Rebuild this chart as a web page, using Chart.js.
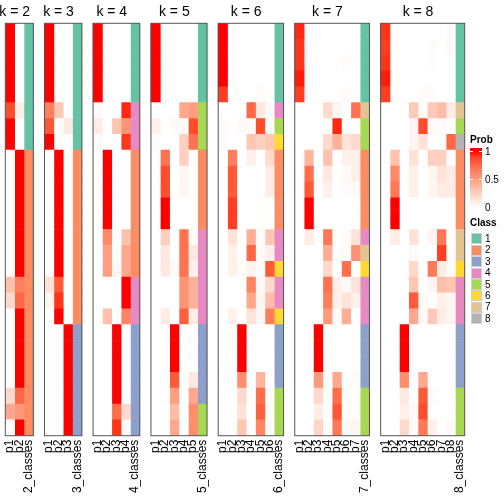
<!DOCTYPE html>
<html>
<head>
<meta charset="utf-8">
<script src="https://cdn.jsdelivr.net/npm/chart.js@4/dist/chart.umd.min.js"></script>
<style>
  html, body { margin:0; padding:0; background:#fff; }
  #wrap { position:relative; width:504px; height:504px; font-family:"Liberation Sans", Arial, sans-serif; }
  #c { position:absolute; left:0; top:0; }
  .lg { position:absolute; font-size:10px; color:#000; line-height:10px; white-space:nowrap; }
  .lgt { font-weight:bold; }
  .sw { position:absolute; width:9px; height:9px; border:1px solid #d0d0d0; }
  .tk { position:absolute; height:1px; width:3px; background:#fff; }
</style>
</head>
<body>
<div id="wrap">
  <canvas id="c" width="504" height="504"></canvas>
  <div id="legend"></div>
</div>
<script>
// ---------- data ----------
const rows = ['s01','s02','s03','s04','s05','s06','s07','s08','s09','s10','s11','s12','s13',
              's14','s15','s16','s17','s18','s19','s20','s21','s22','s23','s24','s25','s26'];
const classColors = ['#66c2a5','#fc8d62','#8da0cb','#e78ac3','#a6d854','#ffd92f','#e5c494','#b3b3b3'];
const classNames = ['1','2','3','4','5','6','7','8'];
const probTicks = [1, 0.5, 0];

// k = 2 : rows x [p1, p2]
const prob2 = [
  [1,0],[1,0],[1,0],[1,0],[1,0],[0.85,0.08],[1,0],[1,0],
  [0,1],[0,1],[0,1],[0,1],[0,1],[0,1],[0,1],[0,1],
  [0.33,0.65],[0.2,0.75],[0,1],[0,1],[0,1],[0,1],[0,1],[0.2,0.75],[0.45,0.53],[0,1]
];
const class2 = [1,1,1,1,1,1,1,1,2,2,2,2,2,2,2,2,2,2,2,2,2,2,2,2,2,2];

// k = 3
const prob3 = [
  [1,0,0],[1,0,0],[1,0,0],[1,0,0],[1,0,0],[0.65,0.28,0],[0.82,0,0.12],[1,0,0],
  [0,1,0],[0,1,0],[0,1,0],[0,1,0],[0,1,0],[0,1,0],[0,1,0],[0,1,0],
  [0.15,0.8,0],[0.05,0.92,0],[0,1,0],
  [0,0,1],[0,0,1],[0,0,1],[0,0,1],[0,0,1],[0,0,1],[0,0,1]
];
const class3 = [1,1,1,1,1,1,1,1,2,2,2,2,2,2,2,2,2,2,2,3,3,3,3,3,3,3];

// k = 4
const prob4 = [
  [1,0,0,0],[1,0,0,0],[1,0,0,0],[1,0,0,0],[1,0,0,0],
  [0.02,0,0,0.95],[0.1,0,0.3,0.55],[0.02,0,0,0.92],
  [0,1,0,0],[0,1,0,0],[0,1,0,0],[0,1,0,0],[0,1,0,0],
  [0,0.6,0,0.33],[0,0.5,0,0.45],[0,0.5,0.04,0.45],
  [0,0,0,1],[0,0,0,1],[0,0.33,0,0.62],
  [0,0,1,0],[0,0,1,0],[0,0,1,0],[0,0,1,0],[0,0,1,0],[0,0,0.72,0.2],[0,0,0.92,0.02]
];
const class4 = [1,1,1,1,1,4,4,4,2,2,2,2,2,2,2,2,4,4,4,3,3,3,3,3,3,3];

// k = 5
const prob5 = [
  [1,0,0,0,0],[1,0,0,0,0],[1,0,0,0,0],[1,0,0,0,0],[1,0,0,0,0],
  [0,0,0,0.45,0.5],[0.08,0,0.03,0.02,0.85],[0.02,0,0,0.25,0.7],
  [0,0.7,0,0.25,0],[0,0.85,0,0.04,0],[0,0.85,0,0.04,0],[0,1,0,0,0],[0,1,0,0,0],
  [0,0.25,0,0.7,0.02],[0,0.12,0,0.7,0.12],[0,0.12,0.03,0.7,0.08],
  [0,0,0,0.55,0.4],[0,0,0,0.55,0.4],[0,0.1,0,0.78,0.1],
  [0,0,1,0,0],[0,0,1,0,0],[0,0,1,0,0],[0,0,0.8,0,0.12],[0,0,0.5,0,0.45],
  [0,0,0.35,0,0.58],[0,0,0.45,0,0.58]
];
const class5 = [1,1,1,1,1,5,5,5,2,2,2,2,2,4,4,4,4,4,4,3,3,3,3,3,5,5];

// k = 6
const prob6 = [
  [1,0,0,0,0,0],[1,0,0,0,0,0],[1,0,0,0,0,0],[1,0,0,0,0,0],[0.9,0,0,0,0.02,0],
  [0,0,0,0.75,0.12,0.02],[0.02,0,0.03,0.02,0.85,0],[0.02,0,0,0.3,0.25,0.3],
  [0,0.65,0,0.08,0,0.2],[0,0.8,0,0,0,0.1],[0,0.8,0,0,0,0.1],[0,0.9,0,0,0.01,0],[0,0.9,0,0,0.01,0],
  [0,0.15,0,0.42,0.02,0.3],[0,0.08,0,0.75,0.02,0.08],[0,0.08,0.02,0.06,0.02,0.8],
  [0,0,0,0.62,0.04,0.2],[0,0,0,0.45,0.05,0.35],[0,0.08,0,0.15,0.04,0.65],
  [0,0,1,0,0,0],[0,0,1,0,0,0],[0,0,1,0,0,0],[0,0,0.58,0,0.38,0],
  [0,0,0.2,0,0.72,0.02],[0,0,0.15,0,0.78,0.02],[0,0,0.3,0,0.62,0.02]
];
const class6 = [1,1,1,1,1,4,5,6,2,2,2,2,2,4,4,6,4,4,6,3,3,3,3,5,5,5];

// k = 7
const prob7 = [
  [0.95,0,0,0,0,0,0],[0.92,0,0,0,0,0,0],[0.92,0,0,0,0,0.02,0],[0.97,0,0,0,0,0,0],[0.9,0,0,0,0,0.02,0],
  [0,0,0,0.2,0.05,0,0.7],[0,0,0,0,0.95,0,0],[0,0,0,0.2,0.4,0.15,0.2],
  [0,0.38,0,0.32,0,0.08,0.08],[0,0.72,0,0.12,0,0.03,0.08],[0,0.8,0,0.08,0,0.02,0.03],
  [0,1,0,0,0,0,0],[0,1,0,0,0,0,0],
  [0,0.1,0,0.68,0,0.02,0.15],[0,0,0,0.42,0,0.02,0.55],[0,0,0,0.2,0,0.72,0],
  [0,0,0,0.7,0.08,0.02,0.15],[0,0,0,0.65,0.08,0.15,0.08],[0,0,0,0.52,0.02,0.42,0],
  [0,0,1,0,0,0,0],[0,0,1,0,0,0,0],[0,0,1,0,0,0,0],[0,0,0.52,0,0.45,0,0.02],
  [0,0,0.2,0,0.72,0.02,0],[0,0,0.1,0,0.82,0,0],[0,0,0.22,0,0.68,0.03,0.05]
];
const class7 = [1,1,1,1,1,7,5,5,2,2,2,2,2,4,7,6,4,4,4,3,3,3,3,5,5,5];

// k = 8
const prob8 = [
  [0.92,0,0,0,0,0,0,0.02],[0.9,0,0,0,0,0.02,0,0.02],[0.92,0,0,0,0,0.02,0,0],[0.97,0,0,0,0,0,0,0],[0.9,0,0,0,0.02,0.02,0,0],
  [0,0,0,0.28,0.02,0.28,0.35,0.1],[0,0,0,0.05,0.85,0.02,0.02,0],[0,0,0,0.05,0.15,0,0,0.75],
  [0,0.32,0,0.15,0,0.25,0.25,0],[0,0.6,0,0.08,0,0.05,0.15,0.1],[0,0.68,0,0.08,0,0.05,0.1,0.1],
  [0,1,0,0,0,0,0,0],[0,1,0,0,0,0,0,0],
  [0,0.1,0,0.15,0,0.05,0.68,0],[0,0,0,0.02,0,0,0.9,0.02],[0,0,0,0.2,0,0.68,0.1,0.02],
  [0,0,0,0.3,0,0.05,0.33,0.3],[0,0,0,0.8,0.03,0,0.08,0.05],[0,0,0,0.45,0.03,0.28,0.1,0.05],
  [0,0,1,0,0,0,0,0],[0,0,1,0,0,0,0,0],[0,0,1,0,0,0,0,0],[0,0,0.58,0,0.45,0,0,0],
  [0,0,0.12,0,0.8,0.02,0,0],[0,0,0.08,0.03,0.85,0,0,0],[0,0,0.2,0.02,0.68,0.08,0,0.03]
];
const class8 = [1,1,1,1,1,7,5,8,2,2,2,2,2,7,7,6,4,4,4,3,3,3,3,5,5,5];

const panels = [
  {k:2, prob:prob2, cls:class2},
  {k:3, prob:prob3, cls:class3},
  {k:4, prob:prob4, cls:class4},
  {k:5, prob:prob5, cls:class5},
  {k:6, prob:prob6, cls:class6},
  {k:7, prob:prob7, cls:class7},
  {k:8, prob:prob8, cls:class8}
];

// ---------- white -> red colour ramp in LAB ----------
function toLin(c){ c/=255; return c<=0.04045 ? c/12.92 : Math.pow((c+0.055)/1.055, 2.4); }
function rgb2lab(r,g,b){
  r=toLin(r); g=toLin(g); b=toLin(b);
  let X=(0.4124564*r+0.3575761*g+0.1804375*b)/0.95047;
  let Y=(0.2126729*r+0.7151522*g+0.0721750*b);
  let Z=(0.0193339*r+0.1191920*g+0.9503041*b)/1.08883;
  const f=t=> t>0.008856 ? Math.cbrt(t) : 7.787*t+16/116;
  const fx=f(X), fy=f(Y), fz=f(Z);
  return [116*fy-16, 500*(fx-fy), 200*(fy-fz)];
}
function lab2rgb(L,a,b){
  const fy=(L+16)/116, fx=fy+a/500, fz=fy-b/200;
  const fi=t=>{ const t3=t*t*t; return t3>0.008856 ? t3 : (t-16/116)/7.787; };
  const X=0.95047*fi(fx), Y=fi(fy), Z=1.08883*fi(fz);
  let r= 3.2404542*X-1.5371385*Y-0.4985314*Z;
  let g=-0.9692660*X+1.8760108*Y+0.0415560*Z;
  let bb=0.0556434*X-0.2040259*Y+1.0572252*Z;
  const gm=c=>{ c=Math.max(0,Math.min(1,c)); c = c<=0.0031308 ? 12.92*c : 1.055*Math.pow(c,1/2.4)-0.055; return Math.round(c*255); };
  return 'rgb('+gm(r)+','+gm(g)+','+gm(bb)+')';
}
const LW = rgb2lab(255,255,255), LR = rgb2lab(255,0,0);
function probColor(v){
  v=Math.max(0,Math.min(1,v));
  return lab2rgb(LW[0]+(LR[0]-LW[0])*v, LW[1]+(LR[1]-LW[1])*v, LW[2]+(LR[2]-LW[2])*v);
}

// ---------- build datasets ----------
const GAP = 1.2;
const datasets = [];
const tickValues = [];
const tickLabels = {};
const ranges = [];
let pos = 0;
panels.forEach((p, pi) => {
  if (pi > 0) {
    datasets.push({ data: rows.map(() => GAP), backgroundColor: 'rgba(0,0,0,0)' });
    pos += GAP;
  }
  const start = pos;
  for (let j = 0; j < p.k; j++) {
    datasets.push({ data: rows.map(() => 1), backgroundColor: p.prob.map(r => probColor(r[j])) });
    tickValues.push(pos + 0.5); tickLabels[(pos + 0.5).toFixed(2)] = 'p' + (j + 1);
    pos += 1;
  }
  datasets.push({ data: rows.map(() => 1), backgroundColor: p.cls.map(c => classColors[c - 1]) });
  tickValues.push(pos + 0.5); tickLabels[(pos + 0.5).toFixed(2)] = p.k + '_classes';
  pos += 1;
  ranges.push({ k: p.k, start: start, probEnd: start + p.k, end: pos });
});
const TOTAL = pos;

const panelPlugin = {
  id: 'panels',
  afterDatasetsDraw(chart) {
    const ctx = chart.ctx, xs = chart.scales.x, a = chart.chartArea;
    ctx.save();
    ctx.strokeStyle = '#555';
    ctx.lineWidth = 1;
    ctx.fillStyle = '#000';
    ctx.font = '14px "Liberation Sans", Arial, sans-serif';
    ctx.textAlign = 'center';
    ctx.textBaseline = 'alphabetic';
    ranges.forEach(r => {
      const l = xs.getPixelForValue(r.start), rr = xs.getPixelForValue(r.end);
      ctx.strokeRect(l, a.top, rr - l, a.bottom - a.top);
      const pe = xs.getPixelForValue(r.probEnd);
      ctx.fillText('k = ' + r.k, (l + pe) / 2, 16);
    });
    ctx.restore();
  }
};

new Chart(document.getElementById('c'), {
  type: 'bar',
  data: { labels: rows, datasets: datasets },
  options: {
    indexAxis: 'y',
    responsive: false,
    animation: false,
    devicePixelRatio: 1,
    layout: { padding: { left: 5.3, top: 23.3, right: 39.3, bottom: 0 } },
    plugins: { legend: { display: false }, tooltip: { enabled: false }, title: { display: false } },
    datasets: { bar: { categoryPercentage: 1, barPercentage: 1, borderWidth: 0 } },
    scales: {
      x: {
        type: 'linear', stacked: true, min: 0, max: TOTAL, position: 'bottom',
        grid: { display: false, drawTicks: false },
        border: { display: false },
        ticks: {
          autoSkip: false, minRotation: 90, maxRotation: 90, padding: 4, color: '#000',
          font: { family: '"Liberation Sans", Arial, sans-serif', size: 12 },
          callback: (v) => tickLabels[Number(v).toFixed(2)] || ''
        },
        afterBuildTicks: (s) => { s.ticks = tickValues.map(v => ({ value: v })); },
        afterFit: (s) => { s.height = 68.3; }
      },
      y: { type: 'category', stacked: true, display: false, offset: true }
    }
  },
  plugins: [panelPlugin]
});

// ---------- legend (HTML) ----------
(function(){
  const L = document.getElementById('legend');
  const add = (html) => { L.insertAdjacentHTML('beforeend', html); };
  add('<div class="lg lgt" style="left:470px;top:135px;">Prob</div>');
  const barTop = 148, barBot = 210, y1 = 151, y0 = 207;
  const stops = [];
  for (let i = 0; i <= 10; i++) {
    const v = 1 - i / 10;
    const y = y1 + (y0 - y1) * (i / 10);
    stops.push(probColor(v) + ' ' + ((y - barTop) / (barBot - barTop) * 100).toFixed(1) + '%');
  }
  add('<div style="position:absolute;left:470px;top:' + barTop + 'px;width:12px;height:' + (barBot - barTop) +
      'px;background:linear-gradient(to bottom,' + stops.join(',') + ');"></div>');
  probTicks.forEach(t => {
    const y = y0 - (y0 - y1) * t;
    add('<div class="tk" style="left:470px;top:' + Math.round(y) + 'px;"></div>');
    add('<div class="tk" style="left:479px;top:' + Math.round(y) + 'px;"></div>');
    add('<div class="lg" style="left:485px;top:' + (y - 4.5) + 'px;">' + t + '</div>');
  });
  add('<div class="lg lgt" style="left:470px;top:218px;">Class</div>');
  classNames.forEach((n, i) => {
    const top = 233.3 + i * 11.43;
    add('<div class="sw" style="left:470.5px;top:' + top + 'px;background:' + classColors[i] + ';"></div>');
    add('<div class="lg" style="left:485px;top:' + (top + 0.5) + 'px;">' + n + '</div>');
  });
})();
</script>
</body>
</html>
